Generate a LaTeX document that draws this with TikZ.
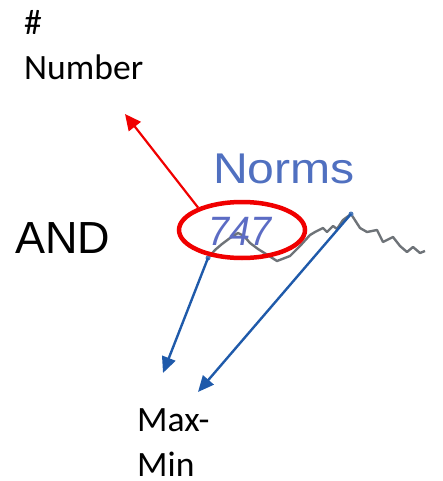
\documentclass[tikz,border=0pt]{standalone}
\usepackage{fontspec}
\setmainfont{Carlito}
\newfontfamily\arialish{Liberation Sans}
\usetikzlibrary{arrows.meta,shapes.geometric}
\definecolor{normblue}{HTML}{5070C0}
\definecolor{numblue}{HTML}{5C6CC4}
\definecolor{arrblue}{HTML}{1F5AAA}
\definecolor{sparkgrey}{HTML}{6E7378}
\definecolor{hilite}{HTML}{F00000}
\begin{document}
\begin{tikzpicture}[x=1pt,y=-1pt,
  lbl/.style={inner sep=0pt,anchor=base west,align=left,font=\fontsize{35.6}{45}\selectfont},
  bluearrow/.style={draw=arrblue,line width=2.4pt,-{Triangle[length=16pt,width=14pt]}},
  redarrow/.style={draw=hilite,line width=2.2pt,-{Triangle[length=16pt,width=15pt]}},
  dot/.style={circle,fill=arrblue!80!white,inner sep=0pt,minimum size=5pt}]
\useasboundingbox (0,0) rectangle (443,481);
% labels (base anchor = baseline of last line)
\node[lbl] (num) at (24,80) {\#\\Number};
\node[lbl,text depth=0pt] (mm) at (137,476) {Max-\\Min};
\node[inner sep=0pt,anchor=base west,font=\arialish\fontsize{45}{45}\selectfont] (and) at (15,253) {AND};
\node[inner sep=0pt,anchor=base west,text=normblue,xscale=1.12,font=\arialish\fontsize{43}{43}\selectfont] (norms) at (213,183) {Norms};
% sparkline
\draw[sparkgrey,line width=2.4pt,line join=round]
  (208,258) -- (215,250) -- (222,244) -- (230,238) -- (238,233) -- (244,236)
  -- (250,243) -- (258,249) -- (266,254) -- (277,261) -- (290,256) -- (300,246)
  -- (310,235) -- (315,232) -- (323,228) -- (327,232) -- (333,226) -- (337,229)
  -- (343,220) -- (351,214) -- (360,228) -- (367,232) -- (377,230) -- (383,242)
  -- (393,237) -- (400,246) -- (407,252) -- (413,247) -- (420,253) -- (425,251);
\node[dot] (d1) at (208,258) {};
\node[dot] (d2) at (351,214) {};
% value
\node[inner sep=0pt,anchor=base west,text=numblue,xscale=0.92,font=\arialish\itshape\fontsize{41}{41}\selectfont] (val) at (208,245) {747};
% highlight ellipse
\node[ellipse,draw=hilite,line width=4.5pt,minimum width=126pt,minimum height=56pt,inner sep=0pt] (ell) at (242,230) {};
% arrows
\coordinate (numtip) at (125,114);
\coordinate (t1) at (163,373);
\coordinate (t2) at (198,392);
\draw[redarrow] (ell.153) -- (numtip);
\draw[bluearrow] (d1.center) -- (t1);
\draw[bluearrow] (d2.center) -- (t2);
\end{tikzpicture}
\end{document}
